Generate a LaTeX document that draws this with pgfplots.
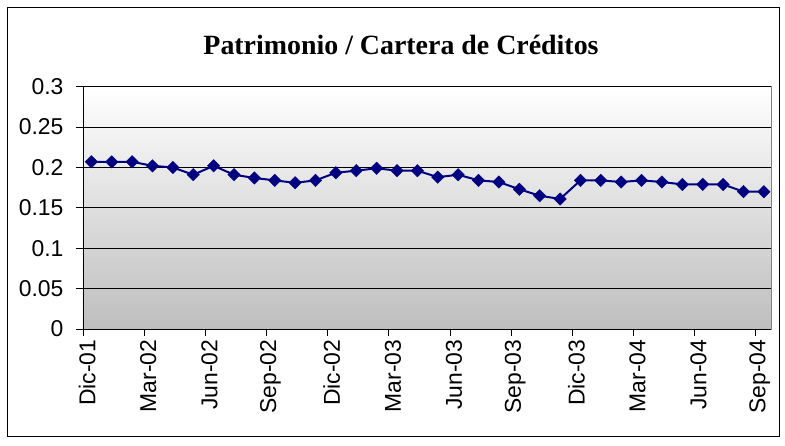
\documentclass[border=0pt]{standalone}
\usepackage{fontspec}
\setmainfont{Liberation Serif}
\newfontfamily\arial{Liberation Sans}
\usepackage{pgfplots}
\pgfplotsset{compat=1.18}
\definecolor{navy}{RGB}{0,0,128}
\definecolor{plotgray}{RGB}{190,190,190}

\begin{document}
\begin{tikzpicture}[x=1bp,y=1bp]
\useasboundingbox (-83,-117) rectangle (702,329);
\draw[black, line width=1bp] (-75,-108) rectangle (696,321);
\node[font=\bfseries\fontsize{28}{28}\selectfont] at (318,284) {Patrimonio / Cartera de Créditos};
\begin{axis}[
  at={(0,0)}, anchor=south west,
  scale only axis,
  width=688bp, height=242.3bp,
  xmin=-0.41, xmax=33.35,
  ymin=0, ymax=0.3,
  ytick={0,0.05,...,0.3},
  xtick={-0.4,2.6,...,32.6},
  xticklabels={Dic-01,Mar-02,Jun-02,Sep-02,Dic-02,Mar-03,Jun-03,Sep-03,Dic-03,Mar-04,Jun-04,Sep-04},
  x tick label style={rotate=90, anchor=east, yshift=-4bp},
  y tick label style={xshift=-9bp},
  tick label style={font=\arial\fontsize{23}{23}\selectfont},
  /pgf/number format/assume math mode=true,
  yticklabel style={/pgf/number format/fixed, /pgf/number format/precision=2},
  axis lines*=left,
  axis line style={-, black, line width=0.8bp},
  tick align=outside,
  tick style={black, line width=0.8bp},
  major tick length=7bp,
  ymajorgrids,
  grid style={black, line width=0.8bp},
  axis background/.style={top color=white, bottom color=plotgray, draw=gray, line width=0.8bp},
  clip=false,
]
\addplot[navy, line width=2bp, mark=square*, mark size=4.4bp, mark options={rotate=45, fill=navy, draw=navy, line width=0.4bp}] coordinates {
(0,0.207) (1,0.207) (2,0.207) (3,0.202) (4,0.200) (5,0.191) (6,0.202) (7,0.191)
(8,0.187) (9,0.184) (10,0.181) (11,0.184) (12,0.1935) (13,0.196) (14,0.199) (15,0.196)
(16,0.196) (17,0.188) (18,0.191) (19,0.184) (20,0.182) (21,0.173) (22,0.165) (23,0.161)
(24,0.184) (25,0.184) (26,0.182) (27,0.184) (28,0.182) (29,0.179) (30,0.179) (31,0.179)
(32,0.170) (33,0.170)
};
\end{axis}
\end{tikzpicture}
\end{document}
